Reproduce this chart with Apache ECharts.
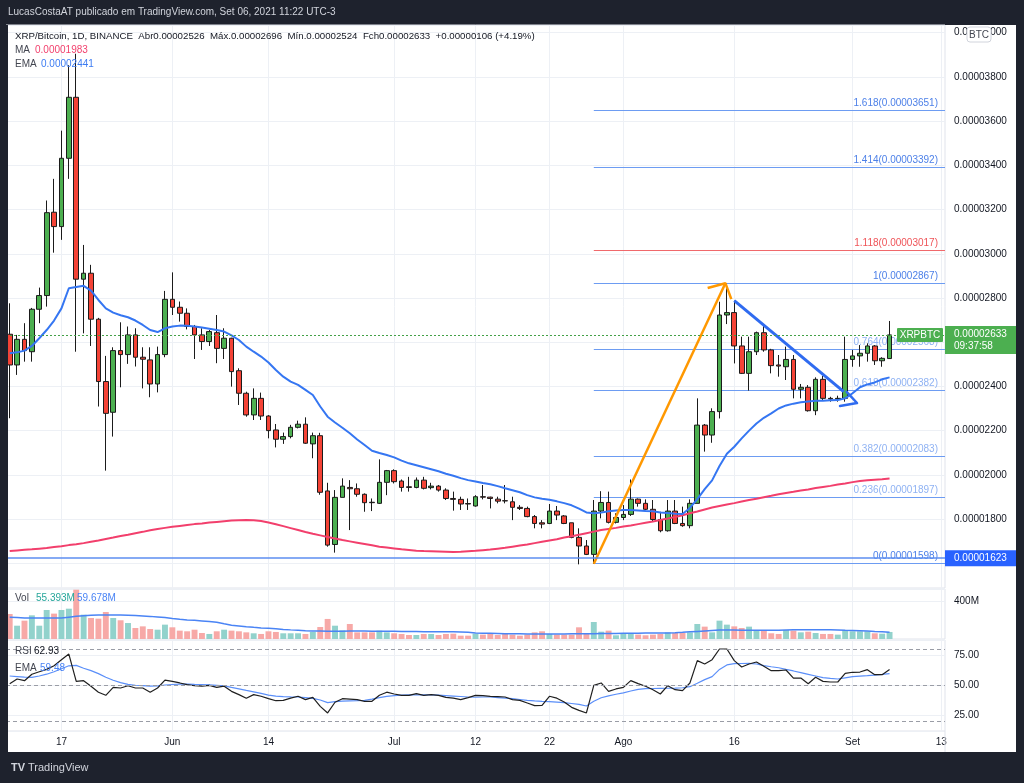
<!DOCTYPE html>
<html>
<head>
<meta charset="utf-8">
<title>XRP/Bitcoin 1D</title>
<script src="https://cdn.jsdelivr.net/npm/echarts@6/dist/echarts.min.js"></script>
<style>
html,body{margin:0;padding:0;background:#1e222d;overflow:hidden;}
#chart{width:1024px;height:783px;}
</style>
</head>
<body>
<div id="chart"></div>
<script>
// ---------------- categories (daily) ----------------
const firstDay = '2021-05-10';
const lastDay = '2021-09-13';
const categories = [];
(function () {
  const d = new Date(firstDay + 'T00:00:00Z');
  const end = new Date(lastDay + 'T00:00:00Z');
  while (d <= end) { categories.push(d.toISOString().slice(0, 10)); d.setUTCDate(d.getUTCDate() + 1); }
})();

// time axis ticks
const timeTickDates = ['2021-05-17','2021-06-01','2021-06-14','2021-07-01','2021-07-12','2021-07-22','2021-08-01','2021-08-16','2021-09-01','2021-09-13'];
const timeTickLabels = ['17','Jun','14','Jul','12','22','Ago','16','Set','13'];

// ---------------- prices (in 1e-8 BTC) ----------------
const opens = [
2636,2497,2613,2557,2749,2811,3188,3123,3432,3708,
2885,2912,2704,2422,2283,2562,2544,2633,2532,2520,
2411,2544,2794,2758,2731,2671,2633,2603,2643,2572,
2618,2471,2369,2271,2346,2266,2203,2161,2173,2215,
2229,2140,2177,1927,1685,1898,1943,1937,1912,1876,
1871,1966,2019,1972,1946,1943,1976,1942,1949,1931,
1893,1889,1870,1859,1901,1899,1890,1883,1878,1853,
1848,1811,1783,1780,1836,1814,1783,1717,1678,1640,
1836,1875,1785,1807,1821,1890,1871,1844,1798,1747,
1836,1780,1770,1871,2225,2180,2286,2723,2734,2583,
2459,2557,2643,2565,2497,2489,2522,2387,2396,2290,
2432,2346,2343,2346,2522,2538,2550,2583,2516,2526];
const closes = [
2497,2613,2562,2749,2811,3186,3123,3432,3708,2885,
2912,2704,2422,2278,2562,2544,2633,2532,2523,2411,
2544,2794,2758,2731,2671,2633,2603,2648,2572,2618,
2467,2369,2271,2346,2266,2200,2161,2173,2215,2229,
2143,2177,1921,1682,1898,1949,1937,1912,1874,1874,
1966,2019,1969,1943,1943,1976,1939,1949,1931,1893,
1889,1868,1868,1901,1899,1893,1881,1882,1853,1848,
1811,1780,1777,1836,1818,1780,1717,1678,1640,1836,
1875,1785,1807,1821,1890,1871,1844,1798,1747,1836,
1780,1770,1871,2225,2180,2286,2723,2734,2583,2459,
2557,2643,2565,2494,2492,2522,2387,2396,2290,2432,
2346,2343,2346,2522,2538,2550,2583,2516,2527,2633];
const lows = [
2256,2452,2512,2512,2686,2761,3005,3063,3339,2557,
2640,2583,2309,2019,2173,2396,2502,2490,2391,2351,
2373,2532,2723,2693,2658,2524,2565,2583,2505,2524,
2399,2316,2263,2248,2248,2165,2124,2140,2165,2210,
2140,2075,1910,1675,1648,1898,1750,1901,1833,1836,
1868,1908,1961,1924,1924,1939,1934,1934,1924,1886,
1838,1841,1841,1856,1889,1848,1871,1871,1795,1841,
1808,1758,1758,1777,1795,1777,1713,1595,1637,1598,
1803,1780,1780,1795,1814,1856,1841,1788,1740,1743,
1777,1765,1758,1871,2105,2145,2255,2682,2504,2456,
2381,2542,2557,2459,2444,2429,2346,2346,2286,2270,
2338,2331,2331,2331,2489,2489,2512,2497,2489,2524];
const highs = [
2776,2633,2686,2755,2847,3241,3339,3557,3853,3905,
3040,2950,2710,2538,2577,2690,2671,2663,2577,2577,
2580,2832,2916,2784,2753,2678,2663,2655,2723,2663,
2620,2482,2376,2391,2372,2270,2230,2191,2226,2245,
2260,2191,2190,1964,1931,1984,1976,1961,1916,1893,
2070,2022,2025,1979,1991,1988,1991,1964,1954,1939,
1924,1901,1893,1908,1954,1901,1901,1954,1901,1863,
1856,1818,1795,1868,1859,1818,1783,1758,1705,1886,
1926,1924,1826,1863,1979,1893,1889,1886,1833,1886,
1886,1856,1889,2346,2230,2301,2783,2866,2788,2625,
2625,2648,2678,2570,2542,2580,2542,2411,2406,2441,
2447,2353,2358,2625,2565,2587,2595,2587,2532,2696];

// MA (red) and EMA (blue)
const maValues = [
1655,1658,1661,1663,1666,1669,1673,1677,1682,1686,
1691,1697,1703,1710,1716,1723,1729,1736,1742,1749,
1755,1760,1765,1769,1773,1777,1780,1784,1787,1790,
1793,1795,1796,1795,1791,1784,1776,1768,1759,1750,
1741,1733,1726,1719,1712,1705,1699,1693,1687,1681,
1675,1671,1667,1663,1660,1657,1655,1654,1653,1652,
1651,1652,1654,1656,1659,1662,1666,1670,1675,1680,
1685,1691,1697,1703,1709,1716,1722,1729,1736,1743,
1750,1755,1760,1766,1771,1777,1783,1789,1796,1802,
1809,1817,1826,1834,1843,1852,1859,1866,1872,1879,
1886,1892,1899,1905,1912,1918,1923,1929,1934,1940,
1945,1950,1956,1961,1967,1972,1975,1978,1980,1983];
const emaValues = [
2550,2554,2562,2583,2618,2655,2698,2753,2844,2850,
2855,2833,2791,2753,2734,2722,2713,2698,2678,2655,
2646,2663,2671,2675,2674,2671,2666,2661,2655,2648,
2631,2610,2580,2557,2535,2508,2474,2444,2422,2407,
2384,2361,2309,2263,2237,2213,2188,2160,2135,2109,
2099,2090,2079,2064,2052,2043,2034,2025,2016,2005,
1996,1985,1976,1970,1963,1957,1949,1939,1930,1921,
1908,1898,1892,1887,1880,1872,1862,1847,1830,1826,
1829,1835,1839,1841,1841,1839,1836,1835,1830,1827,
1824,1823,1850,1890,1935,1975,2040,2095,2127,2165,
2200,2232,2258,2278,2300,2314,2322,2328,2332,2335,
2335,2337,2338,2346,2369,2396,2409,2418,2432,2441];

// ---------------- volume (millions) ----------------
const volumes = [
263,140,193,249,140,305,267,305,319,519,
256,221,214,284,221,197,168,116,133,105,
98,151,123,88,81,98,63,53,81,98,
88,81,70,60,53,81,74,60,60,60,
53,74,126,211,140,91,158,70,70,70,
88,70,60,53,42,42,53,53,42,53,
56,35,35,56,46,60,42,53,46,35,
46,70,81,53,46,46,46,123,53,179,
77,88,39,63,63,46,39,46,53,70,
63,63,70,158,130,70,193,151,133,116,
130,95,88,60,53,95,88,70,77,63,
53,53,46,95,81,81,81,60,56,74];
const volumeMa = [
230,226,222,221,221,221,221,221,230,239,
245,250,253,253,253,253,250,246,242,238,
232,225,216,208,201,197,190,183,176,160,
145,138,130,123,117,113,107,101,96,92,
88,85,83,81,81,82,83,84,83,82,
81,81,81,80,79,78,77,76,76,75,
75,74,70,64,61,60,58,56,55,54,
53,53,53,53,53,53,54,55,55,56,
57,58,59,60,60,61,62,62,63,64,
66,70,75,80,85,90,94,95,94,93,
92,91,91,92,93,95,96,97,97,98,
98,97,95,92,90,88,84,79,75,70];

// ---------------- RSI ----------------
const rsiValues = [
51,55,53.6,59,61,63,66,71,75.8,53,
53.6,49,44,41.4,48,47.5,49.4,47.5,47.5,44,
47.5,54,53,51.7,50.3,49.4,49,49.7,48,49,
44.7,42,39,42,40.6,38.6,36.9,37.2,39,40.6,
37.8,39.7,32.2,26.7,35.6,38.6,38.3,37.8,36.4,36.4,
41.4,44,42.5,41.4,41.4,42.8,41.4,42,41.4,39.7,
39,37.8,39.5,41.4,41.1,40.6,40.3,40,37.8,37.2,
35,32.8,33,40.6,39,35.8,31.4,28.9,26.7,49.7,
51.7,44.7,46.7,48,53.6,51.1,49,46.1,42.5,49.4,
46.1,45.3,51.7,70.3,67.5,71.1,80,80,70.3,65,
67.5,69.2,65.6,61.9,61.9,62.5,55.8,55.8,51.1,56.4,
53,52.5,52.5,59.7,60.6,60.8,62.8,58.6,58.6,62.93];
const rsiEma = [
57.5,57,56.5,56.3,57.5,59,61,63.5,66,66.4,
64,62,59.5,56.5,54,52,50.5,49.8,49.4,49,
49.2,50,50.4,50.7,50.8,50.5,50.3,50.1,49.7,49.3,
48,46.8,45.5,44.3,43,41.6,40.8,40.3,40.1,40,
39.5,38.8,37.5,35.3,36.1,36.5,36.7,36.9,37.2,38.3,
39.5,40.5,41.2,41.5,41.7,41.7,41.7,41.7,41.5,41.2,
40.8,40.4,40,39.8,40,40,39.5,39,38.6,37.9,
37.2,36.7,36.3,36.1,35.7,35.3,34.6,33.9,32.5,36.5,
39.4,41,42.3,43.5,45,46.3,46.9,47.1,47.2,47.3,
47.4,47.7,48.6,51.4,54.5,57,63,66.7,67.8,67.9,
68,67.5,66.1,65.2,64.4,63,61.7,60.3,58.9,57.5,
56.1,55.5,55,56,57,57.4,57.8,58.3,58.8,59.48];
const rsiBands = [80, 50, 20];

// ---------------- drawings ----------------
const fibRatios = ['0','0.236','0.382','0.618','0.764','1','1.118','1.414','1.618'];
const fibPrices = [1598,1897,2083,2382,2568,2867,3017,3392,3651];
const fibStartDate = '2021-07-28';
const horizontalLinePrice = 1623;
// [day index, price]
const upArrow = [[79,1598],[96.8,2867]];
const upArrowHead = [[94.4,2845],[96.8,2867],[97.6,2795]];
const downTrend = [[98,2788],[112.8,2376]];
const brushArrow = [[113.2,2375],[114.6,2325],[112.3,2311]];

// ---------------- helpers ----------------
const FONT = '"Liberation Sans", Arial, sans-serif';
const fmtPrice = v => (v / 1e8).toFixed(8);
const nDays = opens.length;
const lastIdx = nDays - 1;
const xEnd = categories.length - 0.5;
const fibStart = categories.indexOf(fibStartDate);
const lastClose = closes[lastIdx];
const UP = '#4caf50', DOWN = '#f44336';

const candleData = opens.map((o, i) => [o, closes[i], lows[i], highs[i]]);
const volData = volumes.map((v, i) => ({ value: v, itemStyle: { color: closes[i] >= opens[i] ? '#92d2cc' : '#f7a9a7' } }));

const isTick = (i, v) => timeTickDates.indexOf(v) >= 0;
function catAxis(gridIndex, showLabels) {
  return {
    type: 'category', gridIndex, data: categories, boundaryGap: true,
    axisLine: { show: false }, axisTick: { show: false, alignWithLabel: true },
    axisLabel: showLabels ? {
      show: true, interval: isTick, color: '#131722', fontSize: 10, fontFamily: FONT, margin: 6,
      formatter: v => timeTickLabels[timeTickDates.indexOf(v)]
    } : { show: false },
    splitLine: { show: true, interval: isTick, alignWithLabel: true, lineStyle: { color: '#edf0f5', width: 1 } }
  };
}

const fibLineColor = r => r === '1.118' ? '#f0696c' : '#6d9cf2';
const fibLabelColor = r => r === '1.118' ? '#ef5458' : (['0','1','1.414','1.618'].indexOf(r) >= 0 ? '#4d80e8' : '#8fb2f3');

const badge = (bg, text, offsetY) => ({
  show: true, position: 'end', distance: 0, formatter: text,
  backgroundColor: bg, color: '#ffffff', fontSize: 10, fontFamily: FONT, lineHeight: 12,
  padding: [2, 4, 2, 9], width: 58, offset: [0, offsetY]
});

const change = closes[lastIdx] - closes[lastIdx - 1];
const pct = (change / closes[lastIdx - 1] * 100).toFixed(2);
const ohlcText = 'XRP/Bitcoin, 1D, BINANCE  Abr' + fmtPrice(opens[lastIdx]) + '  Máx.' + fmtPrice(highs[lastIdx]) +
  '  Mín.' + fmtPrice(lows[lastIdx]) + '  Fch' + fmtPrice(closes[lastIdx]) + '  +' + fmtPrice(change) + ' (+' + pct + '%)';

const txt = (id, x, y, text, fill, size, extra) => Object.assign({
  type: 'text', id, x, y, silent: true, z: 50,
  style: { text, fill, fontSize: size || 10, fontFamily: FONT, textVerticalAlign: 'middle', textAlign: 'left' }
}, extra || {});

const graphics = [
  { type: 'rect', id: 'panel', shape: { x: 6, y: 25, width: 1010, height: 727 }, style: { fill: '#ffffff' }, z: -10, silent: true },
  { type: 'rect', id: 'leftEdge', shape: { x: 0, y: 25, width: 8, height: 727 }, style: { fill: '#1e222d' }, z: 40, silent: true },
  txt('title', 8, 12, 'LucasCostaAT publicado em TradingView.com, Set 06, 2021 11:22 UTC-3', '#d1d4dc', 10),
  txt('ohlc', 15, 36, ohlcText, '#131722', 9.7),
  txt('maL', 15, 50, 'MA', '#434651', 10),
  txt('maV', 35, 50, fmtPrice(maValues[lastIdx]), '#f23f6c', 10),
  txt('emaL', 15, 64, 'EMA', '#434651', 10),
  txt('emaV', 41, 64, fmtPrice(emaValues[lastIdx]), '#3d7cf2', 10),
  txt('volL', 15, 598, 'Vol', '#434651', 10),
  txt('volV1', 36, 598, '55.393M', '#26a69a', 10),
  txt('volV2', 77, 598, '59.678M', '#4a84f5', 10),
  txt('rsiL', 15, 651, 'RSI', '#434651', 10),
  txt('rsiV', 34, 651, rsiValues[lastIdx].toFixed(2), '#131722', 10),
  txt('rsiEL', 15, 668, 'EMA', '#434651', 10),
  txt('rsiEV', 40, 668, rsiEma[lastIdx].toFixed(2), '#4a84f5', 10),
  { type: 'rect', id: 'btcBox', shape: { x: 967, y: 27, width: 24, height: 15, r: 3 }, style: { fill: '#ffffff', stroke: '#d1d4dc', lineWidth: 1 }, z: 60, silent: true },
  txt('btcT', 979, 35, 'BTC', '#434651', 10, { style: { text: 'BTC', fill: '#434651', fontSize: 10, fontFamily: FONT, textVerticalAlign: 'middle', textAlign: 'center' }, z: 61 }),
  txt('logo', 11, 768, 'TV', '#d1d4dc', 11, { style: { text: 'TV', fill: '#d1d4dc', fontSize: 11, fontWeight: 'bold', fontFamily: FONT, textVerticalAlign: 'middle', textAlign: 'left' } }),
  txt('brand', 28, 768, 'TradingView', '#d1d4dc', 11)
];

const option = {
  animation: false,
  backgroundColor: '#1e222d',
  textStyle: { fontFamily: FONT },
  grid: [
    { left: 6, right: 79, top: 25, height: 563, show: true, borderColor: '#e0e3eb', borderWidth: 1 },
    { left: 6, right: 79, top: 589, height: 50, show: true, borderColor: '#e0e3eb', borderWidth: 1 },
    { left: 6, right: 79, top: 640, height: 91, show: true, borderColor: '#e0e3eb', borderWidth: 1 }
  ],
  xAxis: [
    catAxis(0, false),
    catAxis(1, false),
    catAxis(2, true),
    { type: 'value', gridIndex: 0, min: -0.5, max: xEnd, show: false, splitLine: { show: false } }
  ],
  yAxis: [
    { type: 'value', gridIndex: 0, position: 'right', min: 1488, max: 4035, minInterval: 200, maxInterval: 200, splitNumber: 12,
      axisLine: { show: false }, axisTick: { show: false },
      axisLabel: { color: '#131722', fontSize: 10, fontFamily: FONT, margin: 9, showMinLabel: false, showMaxLabel: false, formatter: fmtPrice },
      splitLine: { show: true, lineStyle: { color: '#edf0f5' } } },
    { type: 'value', gridIndex: 1, position: 'right', min: 0, max: 526, minInterval: 400, maxInterval: 400,
      axisLine: { show: false }, axisTick: { show: false },
      axisLabel: { color: '#131722', fontSize: 10, fontFamily: FONT, margin: 9, showMinLabel: false, showMaxLabel: false, formatter: v => v === 400 ? '400M' : '' },
      splitLine: { show: true, lineStyle: { color: '#edf0f5' } } },
    { type: 'value', gridIndex: 2, position: 'right', min: 11.667, max: 87.5, minInterval: 25, maxInterval: 25,
      axisLine: { show: false }, axisTick: { show: false },
      axisLabel: { color: '#131722', fontSize: 10, fontFamily: FONT, margin: 9, showMinLabel: false, showMaxLabel: false, formatter: v => v.toFixed(2) },
      splitLine: { show: true, lineStyle: { color: '#edf0f5' } } }
  ],
  series: [
    { name: 'XRPBTC', type: 'candlestick', xAxisIndex: 0, yAxisIndex: 0, data: candleData, barWidth: '70%', z: 2,
      itemStyle: { color: UP, color0: DOWN, borderColor: '#1b1b1b', borderColor0: '#1b1b1b', borderWidth: 1 },
      markLine: { silent: true, symbol: ['none', 'none'], animation: false, z: 6,
        data: [
          { yAxis: lastClose, lineStyle: { color: '#43a047', type: [2, 2], width: 1 },
            label: badge('#4caf50', fmtPrice(lastClose) + '\n09:37:58', 5) },
          { yAxis: horizontalLinePrice, lineStyle: { color: '#5d8ef0', type: 'solid', width: 1.5 },
            label: badge('#2962ff', fmtPrice(horizontalLinePrice), 0) }
        ] } },
    { name: 'MA', type: 'line', xAxisIndex: 0, yAxisIndex: 0, data: maValues, symbol: 'none', z: 3,
      lineStyle: { color: '#f23f6c', width: 2 } },
    { name: 'EMA', type: 'line', xAxisIndex: 0, yAxisIndex: 0, data: emaValues, symbol: 'none', z: 3,
      lineStyle: { color: '#3576f2', width: 2 } },
    { name: 'upArrow', type: 'line', xAxisIndex: 3, yAxisIndex: 0, data: upArrow, symbol: 'none', z: 4,
      lineStyle: { color: '#ff9800', width: 2.5 },
      markLine: { silent: true, symbol: ['none', 'none'], animation: false, z: 1,
        data: fibPrices.map((p, i) => [
          { coord: [fibStart, p], lineStyle: { color: fibLineColor(fibRatios[i]), width: 1, type: 'solid' },
            label: { show: true, position: 'insideEndTop', distance: [7, 2], formatter: fibRatios[i] + '(' + fmtPrice(p) + ')',
              color: fibLabelColor(fibRatios[i]), fontSize: 10, fontFamily: FONT } },
          { coord: [xEnd, p] }
        ]) } },
    { name: 'upArrowHead', type: 'line', xAxisIndex: 3, yAxisIndex: 0, data: upArrowHead, symbol: 'none', z: 4,
      lineStyle: { color: '#ff9800', width: 2.5 } },
    { name: 'downTrend', type: 'line', xAxisIndex: 3, yAxisIndex: 0, data: downTrend, symbol: 'none', z: 4,
      lineStyle: { color: '#2f6bf0', width: 3 } },
    { name: 'brushArrow', type: 'line', xAxisIndex: 3, yAxisIndex: 0, data: brushArrow, symbol: 'none', z: 4,
      lineStyle: { color: '#2f6bf0', width: 2.5, cap: 'round', join: 'round' } },
    { name: 'Vol', type: 'bar', xAxisIndex: 1, yAxisIndex: 1, data: volData, barWidth: '80%', z: 2 },
    { name: 'VolMA', type: 'line', xAxisIndex: 1, yAxisIndex: 1, data: volumeMa, symbol: 'none', z: 3,
      lineStyle: { color: '#4a84f5', width: 1.5 } },
    { name: 'RSI', type: 'line', xAxisIndex: 2, yAxisIndex: 2, data: rsiValues, symbol: 'none', z: 3,
      lineStyle: { color: '#1f1f1f', width: 1.2 },
      markLine: { silent: true, symbol: ['none', 'none'], animation: false, label: { show: false },
        lineStyle: { color: '#9a9da6', type: [4, 3], width: 1 },
        data: rsiBands.map(b => ({ yAxis: b })) } },
    { name: 'RSI EMA', type: 'line', xAxisIndex: 2, yAxisIndex: 2, data: rsiEma, symbol: 'none', z: 2,
      lineStyle: { color: '#5b8ff9', width: 1.2 } }
  ],
  graphic: { elements: graphics }
};

const chart = echarts.init(document.getElementById('chart'), null, { renderer: 'canvas', width: 1024, height: 783 });
chart.setOption(option);

// symbol tag on the last-price line and the axis separator, placed through the chart's own scales
const py = chart.convertToPixel({ yAxisIndex: 0 }, lastClose);
const gridRight = chart.convertToPixel({ xAxisIndex: 3 }, xEnd);
chart.setOption({ graphic: { elements: graphics.concat([
  { type: 'rect', id: 'symTag', shape: { x: gridRight - 48, y: py - 7, width: 46, height: 14, r: 1 }, style: { fill: '#4caf50' }, z: 70, silent: true },
  { type: 'text', id: 'symTagT', x: gridRight - 25, y: py, z: 71, silent: true,
    style: { text: 'XRPBTC', fill: '#ffffff', fontSize: 10, fontFamily: FONT, textAlign: 'center', textVerticalAlign: 'middle' } },
  { type: 'line', id: 'axisSep', shape: { x1: gridRight, y1: 731, x2: gridRight, y2: 752 }, style: { stroke: '#e0e3eb', lineWidth: 1 }, z: 5, silent: true }
]) } });
</script>
</body>
</html>
